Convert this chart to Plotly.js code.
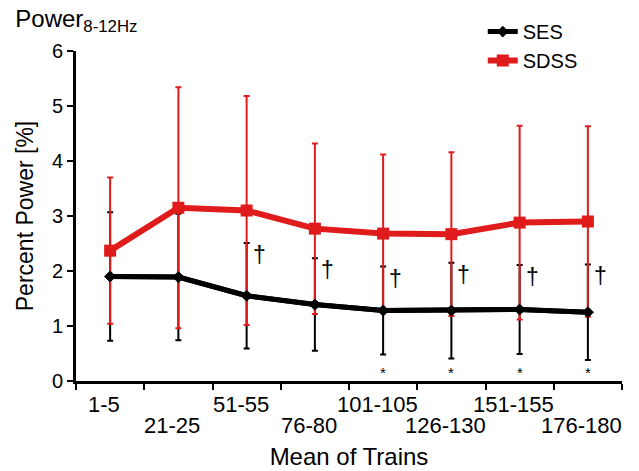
<!DOCTYPE html>
<html><head><meta charset="utf-8">
<script src="https://cdn.plot.ly/plotly-3.0.1.min.js"></script>
<style>html,body{margin:0;padding:0;background:#fff}#chart{width:639px;height:471px}</style>
</head><body><div id="chart"></div>
<script>
const categories = ['1-5','21-25','51-55','76-80','101-105','126-130','151-155','176-180'];
const sesMean  = [1.90,1.89,1.55,1.39,1.28,1.28,1.30,1.25];
const sesErr   = [1.17,1.15,0.96,0.84,0.80,0.87,0.81,0.87];
const sdssMean = [2.37,3.15,3.10,2.77,2.68,2.67,2.88,2.90];
const sdssErr  = [1.33,2.19,2.08,1.55,1.44,1.49,1.76,1.73];
const daggerMarks = ['','','†','†','†','†','†','†'];
const starMarks   = ['','','','','*','*','*','*'];

const FONT = 'Liberation Sans, Arial, Helvetica, sans-serif';
const RED = '#df1b1b';

const traces = [
  { name:'SES', x:categories, y:sesMean, type:'scatter', mode:'lines+markers',
    line:{color:'#000', width:5}, marker:{symbol:'diamond', size:9, color:'#000'},
    error_y:{type:'data', array:sesErr, visible:true, color:'#000', thickness:2, width:3} },
  { name:'SDSS', x:categories, y:sdssMean, type:'scatter', mode:'lines+markers',
    line:{color:RED, width:6}, marker:{symbol:'square', size:12, color:RED},
    error_y:{type:'data', array:sdssErr, visible:true, color:RED, thickness:2, width:3} },
  { name:'SES', x:categories, y:sesMean, type:'scatter', mode:'lines+markers', showlegend:false,
    line:{color:'#000', width:5}, marker:{symbol:'diamond', size:9, color:'#000'} }
];

const annotations = [];
categories.forEach((c,i)=>{
  annotations.push({x:c, xref:'x', y:0, yref:'paper', yanchor:'middle', xshift:-6,
    yshift: i%2===0 ? -23 : -44, text:c, showarrow:false, font:{family:FONT, size:22, color:'#000'}});
  if(daggerMarks[i]) annotations.push({x:c, xref:'x', y:sesMean[i]+sesErr[i], yref:'y',
    xanchor:'left', yanchor:'top', xshift:4, yshift:3, text:daggerMarks[i], showarrow:false,
    font:{family:FONT, size:23, color:'#000'}});
  if(starMarks[i]) annotations.push({x:c, xref:'x', y:0, yref:'y', yanchor:'bottom', yshift:-2,
    text:starMarks[i], showarrow:false, font:{family:FONT, size:15, color:'#000'}});
});

const layout = {
  width:639, height:471, paper_bgcolor:'#fff', plot_bgcolor:'#fff',
  margin:{l:76, r:17, t:49, b:90},
  font:{family:FONT, color:'#000'},
  title:{text:'Power<sub>8-12Hz</sub>', font:{family:FONT, size:24, color:'#000'},
    x:0.024, xref:'container', xanchor:'left', y:0.978, yref:'container', yanchor:'top'},
  showlegend:true,
  legend:{x:0.745, y:1.118, xanchor:'left', yanchor:'top', bgcolor:'rgba(0,0,0,0)',
    font:{family:FONT, size:20, color:'#000'}, itemwidth:30, tracegroupgap:0},
  xaxis:{type:'category', tickson:'boundaries', range:[-0.5,7.5], showticklabels:false,
    ticks:'outside', ticklen:6, tickwidth:2, tickcolor:'#000',
    showline:true, linewidth:3, linecolor:'#000', showgrid:false, zeroline:false,
    title:{text:'Mean of Trains', font:{family:FONT, size:24, color:'#000'}, standoff:66}},
  yaxis:{range:[0,6], dtick:1, ticks:'outside', ticklen:6, tickwidth:2, tickcolor:'#000',
    showline:true, linewidth:3, linecolor:'#000', showgrid:false, zeroline:false,
    tickfont:{family:FONT, size:20, color:'#000'},
    title:{text:'Percent Power [%]', font:{family:FONT, size:23, color:'#000'}, standoff:12}},
  annotations:annotations
};
Plotly.newPlot('chart', traces, layout, {displayModeBar:false, staticPlot:true});
</script>
</body></html>
